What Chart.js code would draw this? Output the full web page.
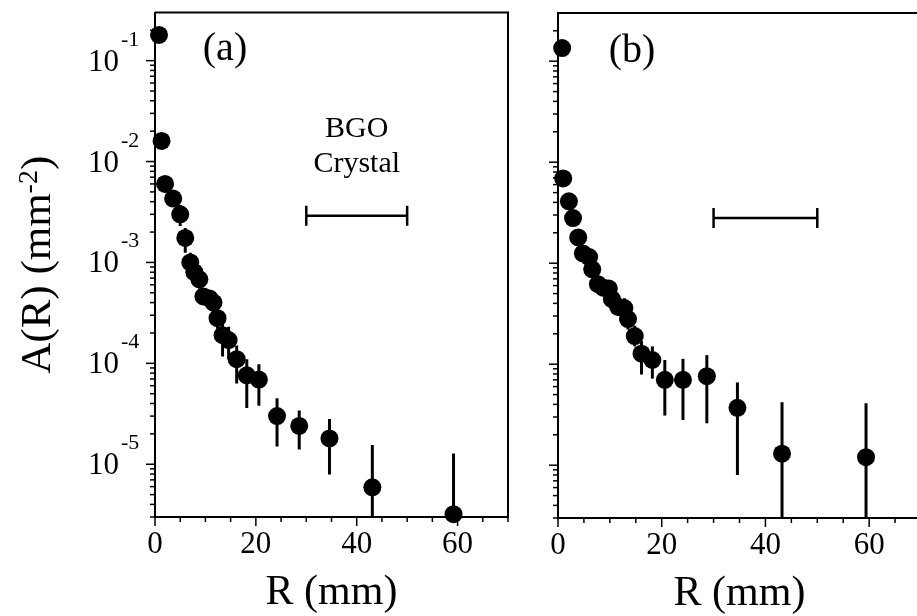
<!DOCTYPE html>
<html>
<head>
<meta charset="utf-8">
<script src="https://cdn.jsdelivr.net/npm/chart.js@4.4.1/dist/chart.umd.min.js"></script>
<style>
  html, body { margin: 0; padding: 0; background: #fff; overflow: hidden; }
  #wrap { position: relative; width: 917px; height: 616px; overflow: hidden; }
  #boxA { position: absolute; left: 0; top: 0; width: 530px; height: 616px; }
  #boxB { position: absolute; left: 505px; top: 0; width: 440px; height: 616px; }
</style>
</head>
<body>
<div id="wrap">
  <div id="boxA"><canvas id="chartA"></canvas></div>
  <div id="boxB"><canvas id="chartB"></canvas></div>
</div>
<script>
// panel (a)
const rA = [0.8, 1.3, 2.0, 3.6, 5.0, 6.0, 7.0, 7.8, 8.8, 9.6, 10.8, 11.6, 12.4, 13.4, 14.6, 16.2, 18.2, 20.6, 24.2, 28.6, 34.6, 43.1, 59.2];
const aA = [0.18, 0.016, 6.0e-3, 4.3e-3, 3.0e-3, 1.75e-3, 1.0e-3, 8.0e-4, 6.8e-4, 4.6e-4, 4.4e-4, 4.0e-4, 2.8e-4, 1.9e-4, 1.7e-4, 1.1e-4, 7.6e-5, 6.9e-5, 3.0e-5, 2.4e-5, 1.8e-5, 5.9e-6, 3.2e-6];
const lowA = [0.17, 0.015, 5.5e-3, 3.9e-3, 2.3e-3, 1.25e-3, 7.6e-4, 6.2e-4, 5.5e-4, 3.8e-4, 3.6e-4, 3.2e-4, 2.2e-4, 1.17e-4, 1.1e-4, 6.3e-5, 3.6e-5, 3.8e-5, 1.5e-5, 1.4e-5, 7.9e-6, 1e-7, 1e-7];
const highA = [0.19, 0.017, 6.5e-3, 4.7e-3, 3.7e-3, 2.2e-3, 1.25e-3, 9.8e-4, 8.2e-4, 5.4e-4, 5.2e-4, 4.8e-4, 3.4e-4, 2.5e-4, 2.3e-4, 1.5e-4, 1.1e-4, 9.8e-5, 4.5e-5, 3.4e-5, 2.8e-5, 1.55e-5, 1.28e-5];

// panel (b)
const rB = [0.8, 1.0, 2.1, 2.9, 3.9, 4.8, 6.0, 6.6, 7.7, 8.8, 9.8, 10.4, 11.6, 12.8, 13.5, 14.8, 16.1, 18.2, 20.6, 24.1, 28.7, 34.6, 43.2, 59.4];
const aB = [0.135, 6.9e-3, 4.1e-3, 2.8e-3, 1.8e-3, 1.25e-3, 1.15e-3, 8.7e-4, 6.2e-4, 5.7e-4, 5.6e-4, 4.4e-4, 3.7e-4, 3.6e-4, 2.8e-4, 1.9e-4, 1.27e-4, 1.1e-4, 7.0e-5, 7.0e-5, 7.6e-5, 3.7e-5, 1.3e-5, 1.2e-5];
const lowB = [0.125, 6.3e-3, 3.7e-3, 2.5e-3, 1.6e-3, 1.1e-3, 9.5e-4, 7.2e-4, 5.0e-4, 4.8e-4, 4.6e-4, 3.6e-4, 3.0e-4, 2.9e-4, 2.2e-4, 1.5e-4, 7.9e-5, 7.2e-5, 3.1e-5, 2.8e-5, 2.6e-5, 8.0e-6, 1e-7, 1e-7];
const highB = [0.145, 7.5e-3, 4.5e-3, 3.1e-3, 2.0e-3, 1.45e-3, 1.4e-3, 1.05e-3, 7.6e-4, 6.8e-4, 6.8e-4, 5.4e-4, 4.6e-4, 4.5e-4, 3.5e-4, 2.4e-4, 1.7e-4, 1.5e-4, 1.1e-4, 1.13e-4, 1.23e-4, 6.6e-5, 4.2e-5, 4.1e-5];

// BGO crystal size marker
const crystalR = [30, 50];
const crystalA = 2.9e-3;
const crystalB = 2.8e-3;

const xTickLabels = [0, 20, 40, 60];
const yDecades = [-1, -2, -3, -4, -5];
const yMin = 3e-6, yMax = 0.3;

const SERIF = '"Liberation Serif", "Times New Roman", serif';

function supText(ctx, parts, x, y, align) {
  // parts: [text, size, rise]
  let total = 0;
  const widths = parts.map(p => {
    ctx.font = p[1] + 'px ' + SERIF;
    const w = ctx.measureText(p[0]).width;
    total += w;
    return w;
  });
  let cx = align === 'center' ? x - total / 2 : (align === 'right' ? x - total : x);
  ctx.textAlign = 'left';
  ctx.textBaseline = 'alphabetic';
  parts.forEach((p, i) => {
    ctx.font = p[1] + 'px ' + SERIF;
    ctx.fillText(p[0], cx, y - p[2]);
    cx += widths[i];
  });
}

const decor = {
  id: 'decor',
  beforeDatasetsDraw(chart, args, opts) {
    const { ctx, chartArea: a, scales: { x, y } } = chart;
    ctx.save();
    ctx.beginPath();
    ctx.rect(a.left, a.top, a.right - a.left, a.bottom - a.top);
    ctx.clip();
    ctx.strokeStyle = '#000';
    ctx.lineWidth = 3;
    opts.r.forEach((r, i) => {
      const px = x.getPixelForValue(r);
      ctx.beginPath();
      ctx.moveTo(px, y.getPixelForValue(opts.low[i]));
      ctx.lineTo(px, y.getPixelForValue(opts.high[i]));
      ctx.stroke();
    });
    ctx.restore();
  },
  afterDraw(chart, args, opts) {
    const { ctx, chartArea: a, scales: { x, y } } = chart;
    ctx.save();
    ctx.strokeStyle = '#000';
    ctx.fillStyle = '#000';

    // frame
    ctx.lineWidth = 2;
    ctx.beginPath();
    ctx.moveTo(a.left, a.top);
    ctx.lineTo(a.right, a.top);
    if (opts.rightBorder) ctx.lineTo(a.right, a.bottom);
    ctx.stroke();

    // y ticks (log, outward)
    ctx.lineWidth = 1.5;
    for (let d = -6; d <= -1; d++) {
      for (let m = 1; m <= 9; m++) {
        const v = m * Math.pow(10, d);
        if (v < yMin || v > yMax) continue;
        const py = y.getPixelForValue(v);
        const len = m === 1 ? 9 : 5;
        ctx.beginPath();
        ctx.moveTo(a.left - len, py);
        ctx.lineTo(a.left, py);
        ctx.stroke();
      }
    }
    // x ticks
    for (let v = 0; v <= x.max; v += 5) {
      const px = x.getPixelForValue(v);
      const len = v % 20 === 0 ? 9 : 5;
      ctx.beginPath();
      ctx.moveTo(px, a.bottom);
      ctx.lineTo(px, a.bottom + len);
      ctx.stroke();
    }

    // x tick labels
    ctx.textAlign = 'center';
    ctx.textBaseline = 'alphabetic';
    ctx.font = '31px ' + SERIF;
    xTickLabels.forEach(v => ctx.fillText(String(v), x.getPixelForValue(v), a.bottom + 36));

    // y tick labels
    if (opts.yLabels) {
      yDecades.forEach(d => {
        const py = y.getPixelForValue(Math.pow(10, d));
        ctx.textAlign = 'right';
        ctx.font = '31px ' + SERIF;
        ctx.fillText('10', a.left - 36, py + 10);
        ctx.textAlign = 'left';
        ctx.font = '22px ' + SERIF;
        ctx.fillText(String(d), a.left - 34, py - 15);
      });
      // y title
      ctx.save();
      ctx.translate(50, (a.top + a.bottom) / 2);
      ctx.rotate(-Math.PI / 2);
      supText(ctx, [['A(R) (mm', 43, 0], ['-2', 28, 13], [')', 43, 0]], 0, 0, 'center');
      ctx.restore();
    }

    // x title
    ctx.textAlign = 'center';
    ctx.font = '42px ' + SERIF;
    ctx.fillText('R (mm)', (a.left + opts.titleRight) / 2, a.bottom + 87);

    // panel label
    ctx.font = '40px ' + SERIF;
    ctx.fillText(opts.panel, a.left + opts.panelDx, opts.panelY);

    if (opts.bgo) {
      const cx = x.getPixelForValue((crystalR[0] + crystalR[1]) / 2);
      ctx.font = '30px ' + SERIF;
      ctx.fillText('BGO', cx, 137);
      ctx.fillText('Crystal', cx, 172);
    }
    ctx.restore();
  }
};

function makeChart(id, r, vals, low, high, crystal, pad, yWidth, xHeight, extra) {
  return new Chart(document.getElementById(id), {
    type: 'scatter',
    data: {
      datasets: [
        {
          data: r.map((v, i) => ({ x: v, y: vals[i] })),
          backgroundColor: '#000',
          borderWidth: 0,
          pointRadius: 9,
          pointHoverRadius: 9,
          clip: false
        },
        {
          data: crystalR.map(v => ({ x: v, y: crystal })),
          showLine: true,
          borderColor: '#000',
          borderWidth: 2.5,
          pointStyle: 'line',
          pointRotation: 90,
          pointRadius: 10,
          pointBorderWidth: 2.5,
          pointBorderColor: '#000'
        }
      ]
    },
    options: {
      responsive: true,
      maintainAspectRatio: false,
      animation: false,
      devicePixelRatio: 1,
      layout: { padding: pad },
      plugins: {
        legend: { display: false },
        tooltip: { enabled: false },
        decor: Object.assign({ r: r, low: low, high: high }, extra)
      },
      scales: {
        x: {
          type: 'linear', min: 0, max: 70,
          ticks: { display: false },
          grid: { display: false },
          border: { display: true, color: '#000', width: 2 },
          afterFit: s => { s.height = xHeight; }
        },
        y: {
          type: 'logarithmic', min: yMin, max: yMax,
          ticks: { display: false },
          grid: { display: false },
          border: { display: true, color: '#000', width: 2 },
          afterFit: s => { s.width = yWidth; }
        }
      }
    },
    plugins: [decor]
  });
}

makeChart('chartA', rA, aA, lowA, highA, crystalA, { top: 10, right: 22, bottom: 0, left: 0 }, 155, 99,
  { yLabels: true, rightBorder: true, panel: '(a)', panelDx: 70, panelY: 60, bgo: true, titleRight: 508 });
makeChart('chartB', rB, aB, lowB, highB, crystalB, { top: 13, right: 24, bottom: 0, left: 0 }, 53, 98,
  { yLabels: false, rightBorder: false, panel: '(b)', panelDx: 74, panelY: 62, bgo: false, titleRight: 416 });
</script>
</body>
</html>
